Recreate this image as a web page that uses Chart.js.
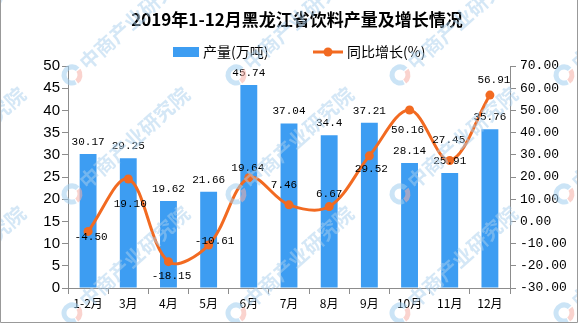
<!DOCTYPE html>
<html>
<head>
<meta charset="utf-8">
<script src="https://cdn.jsdelivr.net/npm/chart.js@4/dist/chart.umd.min.js"></script>
<style>
  html, body { margin: 0; padding: 0; background: #fff; }
  canvas { display: block; }
</style>
</head>
<body>
<canvas id="grafico" width="578" height="323"></canvas>
<script>
const titulo = "2019年1-12月黑龙江省饮料产量及增长情况";
const meses = ["1-2月", "3月", "4月", "5月", "6月", "7月", "8月", "9月", "10月", "11月", "12月"];
const producao = [30.17, 29.25, 19.62, 21.66, 45.74, 37.04, 34.4, 37.21, 28.14, 25.91, 35.76];
const crescimento = [-4.50, 19.10, -18.15, -10.61, 19.64, 7.46, 6.67, 29.52, 50.16, 27.45, 56.91];
const nomeBarras = "产量(万吨)";
const nomeLinha = "同比增长(%)";

const corBarra = "#3d9df2";
const corLinha = "#f26a21";
const corEixo = "#8c8c8c";

// deslocamento (px) dos rotulos da linha em relacao ao ponto
const desvioRotuloLinha = [[3, 6], [2, 25], [3, 14], [6, -4], [-1, -10], [-5, -20], [0, -12], [2, 13], [-2, 20], [-1, -20], [4, -15]];

const pluginRotulos = {
  id: "rotulos",
  afterDatasetsDraw(chart) {
    const ctx = chart.ctx;
    ctx.save();
    ctx.font = "11px 'Liberation Mono'";
    ctx.fillStyle = "#000";
    ctx.textAlign = "center";
    ctx.textBaseline = "middle";
    chart.getDatasetMeta(0).data.forEach((bar, i) => {
      ctx.fillText(String(producao[i]), bar.x, bar.y - 12);
    });
    chart.getDatasetMeta(1).data.forEach((pt, i) => {
      const [dx, dy] = desvioRotuloLinha[i];
      ctx.fillText(crescimento[i].toFixed(2), pt.x + dx, pt.y + dy);
    });
    ctx.restore();
  }
};

function marcaDagua(ctx, lx, ly) {
  ctx.save();
  ctx.translate(lx, ly);
  ctx.lineWidth = 5;
  ctx.strokeStyle = "rgba(160,205,238,0.55)";
  ctx.beginPath();
  ctx.arc(0, 0, 8, 0.35 * Math.PI, 1.75 * Math.PI);
  ctx.stroke();
  ctx.strokeStyle = "rgba(245,175,165,0.55)";
  ctx.beginPath();
  ctx.arc(0, 0, 8, 1.8 * Math.PI, 2.3 * Math.PI);
  ctx.stroke();
  ctx.rotate(-42 * Math.PI / 180);
  ctx.font = "bold 20px 'Noto Sans CJK SC'";
  ctx.fillStyle = "rgba(170,208,238,0.5)";
  ctx.textBaseline = "middle";
  ctx.fillText("中商产业研究院", 14, 0);
  ctx.restore();
}

const pluginMoldura = {
  id: "moldura",
  afterDraw(chart) {
    const ctx = chart.ctx;
    ctx.save();
    // titulo
    ctx.font = "bold 17px 'Noto Sans CJK SC'";
    ctx.fillStyle = "#000";
    ctx.textAlign = "center";
    ctx.textBaseline = "middle";
    ctx.fillText(titulo, 297, 20);
    // legenda
    ctx.font = "14px 'Noto Sans CJK SC'";
    ctx.textAlign = "left";
    ctx.fillStyle = corBarra;
    ctx.fillRect(173, 47, 26, 10);
    ctx.fillStyle = "#000";
    ctx.fillText(nomeBarras, 203, 52);
    ctx.strokeStyle = corLinha;
    ctx.lineWidth = 3;
    ctx.beginPath();
    ctx.moveTo(313, 52);
    ctx.lineTo(343, 52);
    ctx.stroke();
    ctx.fillStyle = corLinha;
    ctx.beginPath();
    ctx.arc(328, 52, 4.5, 0, Math.PI * 2);
    ctx.fill();
    ctx.fillStyle = "#000";
    ctx.fillText(nomeLinha, 347, 52);
    // marca d'agua
    for (let x = -92; x < 640; x += 164) {
      for (let y = 75; y < 420; y += 119) marcaDagua(ctx, x, y);
    }
    // borda
    ctx.strokeStyle = "#999";
    ctx.lineWidth = 1;
    ctx.beginPath();
    ctx.moveTo(0.5, 0);
    ctx.lineTo(0.5, 322.5);
    ctx.lineTo(577.5, 322.5);
    ctx.lineTo(577.5, 0);
    ctx.stroke();
    ctx.restore();
  }
};

new Chart(document.getElementById("grafico").getContext("2d"), {
  data: {
    labels: meses,
    datasets: [
      {
        type: "bar",
        label: nomeBarras,
        data: producao,
        yAxisID: "y",
        backgroundColor: corBarra,
        barPercentage: 0.42,
        categoryPercentage: 1,
        order: 2
      },
      {
        type: "line",
        label: nomeLinha,
        data: crescimento,
        yAxisID: "y1",
        borderColor: corLinha,
        backgroundColor: corLinha,
        borderWidth: 3,
        tension: 0.35,
        pointRadius: 4.5,
        pointBackgroundColor: corLinha,
        pointBorderWidth: 0,
        order: 1
      }
    ]
  },
  options: {
    responsive: false,
    animation: false,
    layout: { padding: { top: 66, left: 0, right: 0, bottom: 0 } },
    plugins: {
      legend: { display: false },
      title: { display: false },
      tooltip: { enabled: false }
    },
    scales: {
      x: {
        offset: true,
        grid: { display: true, drawOnChartArea: false, offset: true, tickLength: 6, color: corEixo },
        border: { color: corEixo },
        ticks: { color: "#000", font: { size: 12, family: "'Noto Sans CJK SC'" }, padding: 2, maxRotation: 0 },
        afterFit: s => { s.height = 35; }
      },
      y: {
        position: "left",
        min: 0,
        max: 50,
        grid: { drawOnChartArea: false, tickLength: 6, color: corEixo },
        border: { color: corEixo },
        ticks: { stepSize: 5, color: "#000", font: { size: 15, family: "'Liberation Sans'" }, padding: 2 },
        afterFit: s => { s.width = 68; }
      },
      y1: {
        position: "right",
        min: -30,
        max: 70,
        grid: { drawOnChartArea: false, tickLength: 6, color: corEixo },
        border: { color: corEixo },
        ticks: {
          stepSize: 10,
          color: "#000",
          font: { size: 13, family: "'Liberation Mono'" },
          padding: 4,
          callback: v => v.toFixed(2)
        },
        afterFit: s => { s.width = 68; }
      }
    }
  },
  plugins: [pluginRotulos, pluginMoldura]
});
</script>
</body>
</html>
